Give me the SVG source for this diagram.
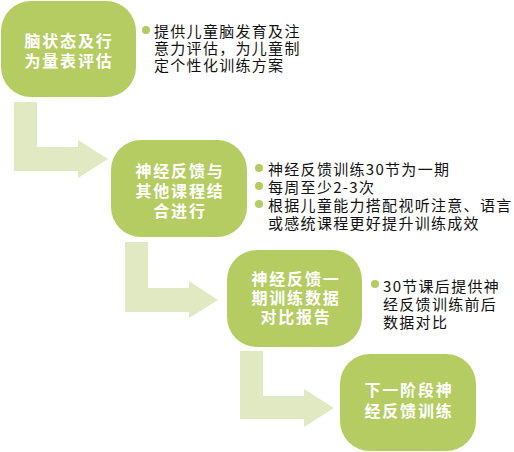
<svg xmlns="http://www.w3.org/2000/svg" width="514" height="452" viewBox="0 0 514 452">
<style>
.box{fill:#b5cc62}
.arrow{fill:#e0e9c1}
.bt{font-family:"Noto Sans CJK SC","Noto Sans",sans-serif;font-size:16px;font-weight:bold;fill:#ffffff;letter-spacing:1.8px;text-anchor:middle}
.tx{font-family:"Noto Sans CJK SC","Noto Sans",sans-serif;font-size:15px;fill:#111111;letter-spacing:1.3px}
.dot{fill:#b5cc62}
</style>
<rect width="514" height="452" fill="#ffffff"/>
<g id="connectors">
<path class="arrow" d="M14,102 L37,102 L37,147 L78,147 L78,140 L108,159 L78,178 L78,171 L14,171 Z"/>
<path class="arrow" d="M125,242 L148,242 L148,288 L189,288 L189,281 L218,300 L189,318 L189,312 L125,312 Z"/>
<path class="arrow" d="M240,351 L263,351 L263,396 L304,396 L304,389 L334,408 L304,427 L304,419 L240,419 Z"/>
</g>
<g id="node1">
<rect class="box" x="1" y="1" width="135" height="96" rx="30"/>
<text class="bt" x="69" y="47">脑状态及行</text>
<text class="bt" x="69" y="67">为量表评估</text>
</g>
<g id="notes1">
<circle class="dot" cx="146" cy="30" r="4"/>
<text class="tx" x="154" y="37">提供儿童脑发育及注</text>
<text class="tx" x="154" y="54">意力评估，为儿童制</text>
<text class="tx" x="154" y="71">定个性化训练方案</text>
</g>
<g id="node2">
<rect class="box" x="111" y="140" width="136" height="97" rx="30"/>
<text class="bt" x="180" y="177">神经反馈与</text>
<text class="bt" x="180" y="197">其他课程结</text>
<text class="bt" x="180" y="217">合进行</text>
</g>
<g id="notes2">
<circle class="dot" cx="259" cy="168" r="4"/>
<circle class="dot" cx="259" cy="186" r="4"/>
<circle class="dot" cx="259" cy="204" r="4"/>
<text class="tx" x="268" y="175">神经反馈训练30节为一期</text>
<text class="tx" x="268" y="193">每周至少2-3次</text>
<text class="tx" x="268" y="211">根据儿童能力搭配视听注意、语言</text>
<text class="tx" x="268" y="229">或感统课程更好提升训练成效</text>
</g>
<g id="node3">
<rect class="box" x="227" y="250" width="135" height="97" rx="30"/>
<text class="bt" x="296" y="285">神经反馈一</text>
<text class="bt" x="296" y="304">期训练数据</text>
<text class="bt" x="296" y="323">对比报告</text>
</g>
<g id="notes3">
<circle class="dot" cx="375" cy="284" r="4"/>
<text class="tx" x="383" y="292">30节课后提供神</text>
<text class="tx" x="383" y="310">经反馈训练前后</text>
<text class="tx" x="383" y="328">数据对比</text>
</g>
<g id="node4">
<rect class="box" x="340" y="354" width="136" height="97" rx="30"/>
<text class="bt" x="409" y="396">下一阶段神</text>
<text class="bt" x="409" y="417">经反馈训练</text>
</g>
</svg>
